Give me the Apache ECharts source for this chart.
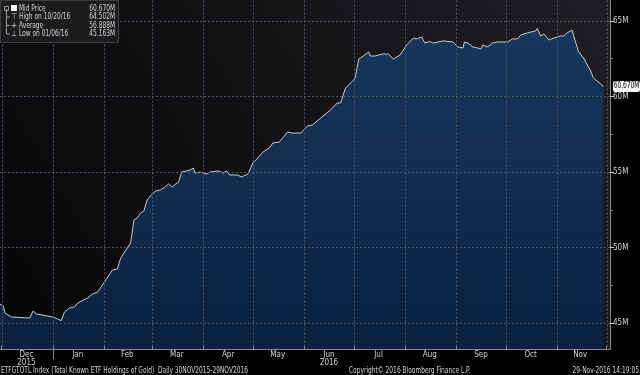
<!DOCTYPE html>
<html><head><meta charset="utf-8">
<script src="https://cdn.jsdelivr.net/npm/echarts@6/dist/echarts.min.js"></script>
<style>html,body{margin:0;padding:0;background:#000;}#c{width:640px;height:375px;}</style>
</head><body><div id="c"></div>
<script>
const dates = ['2015-11-30','2015-12-02','2015-12-03','2015-12-07','2015-12-18','2015-12-19','2015-12-20','2015-12-22','2016-01-01','2016-01-06','2016-01-08','2016-01-11','2016-01-14','2016-01-16','2016-01-22','2016-01-25','2016-01-28','2016-01-31','2016-02-06','2016-02-09','2016-02-11','2016-02-15','2016-02-17','2016-02-19','2016-02-21','2016-02-23','2016-02-25','2016-02-27','2016-02-29','2016-03-03','2016-03-06','2016-03-09','2016-03-11','2016-03-13','2016-03-17','2016-03-19','2016-03-24','2016-03-26','2016-03-27','2016-03-30','2016-04-03','2016-04-05','2016-04-10','2016-04-13','2016-04-15','2016-04-17','2016-04-22','2016-04-24','2016-04-28','2016-04-29','2016-05-01','2016-05-04','2016-05-07','2016-05-11','2016-05-13','2016-05-17','2016-05-22','2016-05-25','2016-05-30','2016-06-03','2016-06-06','2016-06-11','2016-06-17','2016-06-21','2016-06-23','2016-06-26','2016-07-01','2016-07-02','2016-07-04','2016-07-06','2016-07-07','2016-07-10','2016-07-11','2016-07-14','2016-07-18','2016-07-22','2016-07-25','2016-07-29','2016-08-02','2016-08-06','2016-08-08','2016-08-11','2016-08-13','2016-08-16','2016-08-18','2016-08-24','2016-08-30','2016-09-02','2016-09-05','2016-09-06','2016-09-08','2016-09-11','2016-09-14','2016-09-16','2016-09-17','2016-09-20','2016-09-23','2016-09-26','2016-10-02','2016-10-05','2016-10-08','2016-10-10','2016-10-14','2016-10-19','2016-10-20','2016-10-22','2016-10-24','2016-10-27','2016-10-30','2016-11-03','2016-11-05','2016-11-07','2016-11-10','2016-11-11','2016-11-14','2016-11-17','2016-11-21','2016-11-23','2016-11-29'];
const values = [46.26,46.13,45.66,45.40,45.33,45.20,45.79,45.60,45.40,45.16,45.73,45.99,46.06,46.32,46.66,46.92,47.05,47.52,48.51,48.58,49.30,49.97,50.30,51.82,51.95,52.28,52.42,53.15,53.41,53.74,53.81,54.01,54.21,54.01,54.34,55.00,55.13,55.26,54.93,55.00,54.87,55.00,55.07,54.93,55.07,54.80,54.80,54.67,54.87,54.93,55.60,55.93,56.32,56.59,56.92,56.99,57.65,57.58,57.58,58.05,58.11,58.58,59.11,59.57,59.57,60.56,61.09,61.29,62.48,62.62,62.55,62.95,62.68,62.68,62.81,62.81,62.48,62.75,63.41,63.87,63.81,63.94,63.54,63.64,63.54,63.68,63.61,63.28,63.21,63.61,63.54,63.28,63.21,63.15,63.41,63.28,63.54,63.61,63.61,63.81,63.81,64.07,64.21,64.34,64.502,64.01,64.14,63.74,63.87,64.01,64.01,64.21,64.40,64.27,62.95,62.55,61.75,61.23,60.67];
const yTickValues = [45,50,55,60,65];
const yMinorTickValues = [47.5,52.5,57.5,62.5];
const monthStarts = ['2015-12-01','2016-01-01','2016-02-01','2016-03-01','2016-04-01','2016-05-01','2016-06-01','2016-07-01','2016-08-01','2016-09-01','2016-10-01','2016-11-01','2016-12-01'];
const yearStart = '2016-01-01';
const monthLabelDates = ['2015-12-16','2016-01-16','2016-02-15','2016-03-16','2016-04-16','2016-05-16','2016-06-16','2016-07-16','2016-08-16','2016-09-16','2016-10-16','2016-11-15'];
const monthLabels = ['Dec\n2015','Jan','Feb','Mar','Apr','May','Jun\n2016','Jul','Aug','Sep','Oct','Nov'];
const legendLabels = ['Mid Price','High on 10/20/16','Average','Low on 01/06/16'];
const legendValues = ['60.670M','64.502M','56.888M','45.163M'];
const lastLabel = '60.670M';
const footerLeft = 'ETFGTOTL Index (Total Known ETF Holdings of Gold)  Daily 30NOV2015-29NOV2016';
const footerMid = 'Copyright\u00a9 2016 Bloomberg Finance L.P.';
const footerRight = '29-Nov-2016 14:19:05';

const ts = s => +new Date(s + 'T00:00:00');
const FONT = '"Liberation Sans Narrow","DejaVu Sans Condensed","Liberation Sans",sans-serif';
const TXT = '#d4d4d4';
const AX = '#8a8a8a';
const GRIDC = '#525863';
const SX = 0.82;
const Y_MIN = 43.28, Y_MAX = 66.39;
const xMin = ts('2015-11-30'), xMax = ts('2016-12-03');
const labelTs = monthLabelDates.map(ts);

const chart = echarts.init(document.getElementById('c'), null, {renderer: 'canvas'});
const option = {
  animation: false,
  backgroundColor: '#000',
  textStyle: {fontFamily: FONT},
  grid: {left: 0, right: 30, top: 0, bottom: 26, show: true, borderWidth: 0,
    backgroundColor: new echarts.graphic.LinearGradient(0, 1, 1, 0, [
      {offset: 0, color: '#060608'}, {offset: 1, color: '#1f1f23'}])},
  xAxis: {
    type: 'value', min: xMin, max: xMax, z: 5,
    axisLine: {show: true, lineStyle: {color: AX, width: 1}},
    axisTick: {show: true, customValues: monthStarts.map(ts), inside: true, length: 3, lineStyle: {color: AX}},
    axisLabel: {customValues: labelTs, color: TXT, fontSize: 8, fontFamily: FONT, lineHeight: 8, margin: 2,
      formatter: function (v) { const i = labelTs.indexOf(v); return i >= 0 ? monthLabels[i] : ''; }},
    splitLine: {show: false}
  },
  yAxis: [{
    type: 'value', position: 'right', min: Y_MIN, max: Y_MAX, z: 5,
    axisLine: {show: true, lineStyle: {color: AX, width: 1}},
    axisTick: {show: true, customValues: yTickValues, length: 4, lineStyle: {color: '#cfcfcf'}},
    axisLabel: {customValues: yTickValues, color: TXT, fontSize: 8, fontFamily: FONT, margin: 3,
      formatter: v => v + 'M'},
    splitLine: {show: true, lineStyle: {color: GRIDC, width: 1, type: [2, 2]}}
  }, {
    type: 'value', position: 'right', min: Y_MIN, max: Y_MAX, z: 5,
    axisLine: {show: false},
    axisTick: {show: true, customValues: yMinorTickValues, length: 3, lineStyle: {color: AX}},
    axisLabel: {show: false},
    splitLine: {show: false}
  }],
  series: [{
    type: 'line',
    data: dates.map((d, i) => [ts(d), values[i]]),
    showSymbol: false,
    lineStyle: {color: '#c9ccd2', width: 1},
    areaStyle: {color: new echarts.graphic.LinearGradient(0, 0, 0, 1, [
      {offset: 0, color: '#17375c'}, {offset: 1, color: '#0a2140'}]), opacity: 1},
    z: 3
  }]
};
chart.setOption(option);

const px = v => chart.convertToPixel({xAxisIndex: 0}, v);
const py = v => chart.convertToPixel({yAxisIndex: 0}, v);
const yLast = py(values[values.length - 1]);
const xRight = px(xMax);
const yTop = py(Y_MAX), yBottom = py(Y_MIN);
const graphics = [];
monthStarts.forEach(m => {
  const x = Math.round(px(ts(m))) + 0.5;
  graphics.push({type: 'line', z: 20, shape: {x1: x, y1: yTop + 0.5, x2: x, y2: yBottom - 0.5},
    style: {stroke: GRIDC, lineWidth: 1, lineDash: [2, 2], fill: null}});
});
const txt = (x, y, text, align, fill, z) => ({type: 'text', x: x, y: y, scaleX: SX, z: z || 31,
  style: {text: text, fill: fill || TXT, font: '8px ' + FONT, align: align || 'left', verticalAlign: 'middle'}});
graphics.push({type: 'rect', shape: {x: 0.5, y: 0.5, width: 118, height: 42}, style: {fill: '#1b1b1d', stroke: '#3e3e42', lineWidth: 1}, z: 30});
const rowY = [8.5, 17, 25.5, 34];
graphics.push({type: 'line', shape: {x1: 6.5, y1: 9, x2: 6.5, y2: 34}, style: {stroke: '#9a9a9a', lineWidth: 1}, z: 31});
graphics.push({type: 'rect', shape: {x: 11, y: 5, width: 6, height: 6}, style: {fill: '#ffffff'}, z: 31});
graphics.push({type: 'rect', shape: {x: 4.5, y: 6.5, width: 4, height: 4}, style: {fill: 'none', stroke: '#9a9a9a', lineWidth: 1}, z: 31});
const glyphs = ['', '\u22a4', '+', '\u22a5'];
for (let i = 0; i < legendLabels.length; i++) {
  if (i > 0) {
    graphics.push({type: 'line', shape: {x1: 6.5, y1: rowY[i], x2: 10, y2: rowY[i]}, style: {stroke: '#9a9a9a', lineWidth: 1}, z: 31});
    graphics.push({type: 'text', x: 14, y: rowY[i], z: 31, style: {text: glyphs[i], fill: TXT, font: '8px ' + FONT, align: 'center', verticalAlign: 'middle'}});
  }
  graphics.push(txt(19, rowY[i], legendLabels[i], 'left'));
  graphics.push(txt(115, rowY[i], legendValues[i], 'right'));
}
const xYear = Math.round(px(ts(yearStart))) + 0.5;
graphics.push({type: 'line', shape: {x1: xYear, y1: yBottom, x2: xYear, y2: yBottom + 10}, style: {stroke: AX, lineWidth: 1}, z: 31});
graphics.push({type: 'rect', shape: {x: xRight + 3, y: yLast - 5.5, width: 27, height: 11, r: 2}, style: {fill: '#f2f2f2'}, z: 32});
graphics.push(txt(xRight + 16.5, yLast, lastLabel, 'center', '#111', 33));
graphics.push(txt(1, 370.5, footerLeft, 'left'));
graphics.push(txt(349, 370.5, footerMid, 'left'));
graphics.push(txt(639, 370.5, footerRight, 'right'));
chart.setOption({graphic: graphics});
</script></body></html>
